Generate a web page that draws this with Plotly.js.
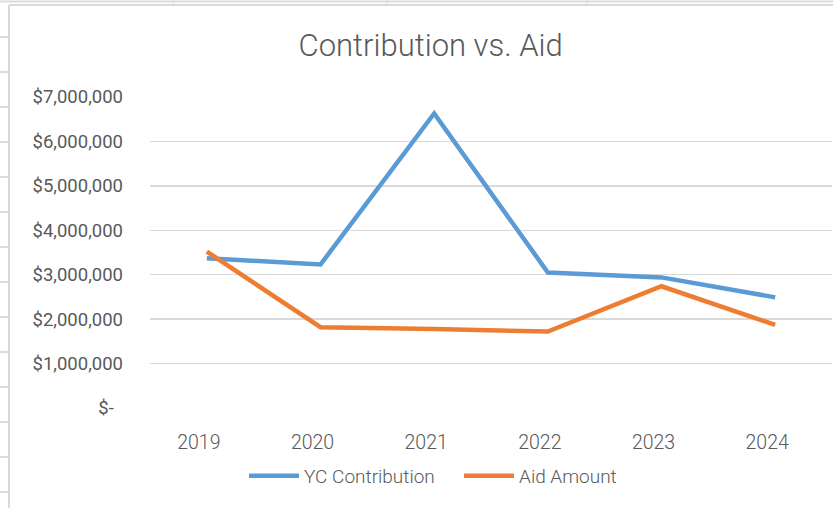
<!DOCTYPE html>
<html>
<head>
<meta charset="utf-8">
<script src="https://cdn.plot.ly/plotly-3.0.1.min.js"></script>
<style>
  html, body { margin: 0; padding: 0; background: #ffffff; }
  #chart { width: 833px; height: 508px; }
</style>
</head>
<body>
<div id="chart"></div>
<script>
// ---- data ----
var years = ['2019', '2020', '2021', '2022', '2023', '2024'];
var ycContribution = [3370000, 3230000, 6630000, 3050000, 2940000, 2490000];
var aidAmount = [3520000, 1820000, 1780000, 1720000, 2740000, 1870000];
var yTickVals = [0, 1000000, 2000000, 3000000, 4000000, 5000000, 6000000, 7000000];
var yTickText = ['$-\u00a0\u00a0', '$1,000,000', '$2,000,000', '$3,000,000', '$4,000,000', '$5,000,000', '$6,000,000', '$7,000,000'];

// ---- layout geometry helpers (pixel -> paper) ----
var W = 833, H = 508, ML = 150, MR = 1, MT = 97, MB = 100;
var PW = W - ML - MR, PH = H - MT - MB;
function px(x) { return (x - ML) / PW; }
function py(y) { return (H - MB - y) / PH; }

var sheetColor = '#dcdcdc';
var shapes = [];
shapes.push({type: 'line', xref: 'paper', yref: 'paper', x0: px(0), x1: px(833), y0: py(1.5), y1: py(1.5), line: {color: sheetColor, width: 2}, layer: 'below'});
[173, 387, 587].forEach(function (x) {
  shapes.push({type: 'line', xref: 'paper', yref: 'paper', x0: px(x), x1: px(x), y0: py(0), y1: py(5), line: {color: sheetColor, width: 1}, layer: 'below'});
});
for (var r = 37; r < 508; r += 35) {
  shapes.push({type: 'line', xref: 'paper', yref: 'paper', x0: px(0), x1: px(9), y0: py(r), y1: py(r), line: {color: sheetColor, width: 2}, layer: 'below'});
}
shapes.push({type: 'line', xref: 'paper', yref: 'paper', x0: px(9), x1: px(9), y0: py(5), y1: py(508), line: {color: '#d9d9d9', width: 2}, layer: 'below'});
shapes.push({type: 'line', xref: 'paper', yref: 'paper', x0: px(9), x1: px(833), y0: py(5), y1: py(5), line: {color: '#d9d9d9', width: 2}, layer: 'below'});

var traces = [
  {
    x: years, y: ycContribution, name: 'YC Contribution', type: 'scatter', mode: 'lines',
    line: {color: '#5b9bd5', width: 4.5}
  },
  {
    x: years, y: aidAmount, name: 'Aid Amount', type: 'scatter', mode: 'lines',
    line: {color: '#ed7d31', width: 4.5}
  }
];

var font = 'Roboto, "Noto Sans", sans-serif';

var layout = {
  width: W, height: H,
  margin: {l: ML, r: MR, t: MT, b: MB, pad: 0},
  paper_bgcolor: '#ffffff',
  plot_bgcolor: '#ffffff',
  title: {
    text: 'Contribution vs. Aid',
    font: {family: font, size: 31, weight: 300, color: '#595959'},
    xref: 'container', x: 0.517, xanchor: 'center',
    yref: 'container', y: 1 - 45 / H, yanchor: 'middle'
  },
  xaxis: {
    type: 'category',
    range: [-0.5, 5.5],
    showgrid: false, zeroline: false, showline: false,
    ticks: '',
    ticklabelstandoff: 20,
    ticklabelshift: -8,
    tickfont: {family: font, size: 19.5, weight: 300, color: '#595959'},
    fixedrange: true
  },
  yaxis: {
    range: [0, 7000000],
    tickvals: yTickVals, ticktext: yTickText,
    showgrid: true, gridcolor: '#d9d9d9', gridwidth: 1.5,
    zeroline: false, showline: false,
    ticks: '',
    ticklabelstandoff: 26,
    tickfont: {family: font, size: 18.5, color: '#595959'},
    fixedrange: true
  },
  showlegend: true,
  legend: {
    orientation: 'h',
    x: px(244), xanchor: 'left',
    y: py(476), yanchor: 'middle',
    font: {family: font, size: 19, weight: 300, color: '#595959'},
    itemwidth: 50,
    entrywidth: 150,
    tracegroupgap: 0,
    bgcolor: 'rgba(0,0,0,0)'
  },
  shapes: shapes
};

Plotly.newPlot('chart', traces, layout, {displayModeBar: false, staticPlot: true});
</script>
</body>
</html>
